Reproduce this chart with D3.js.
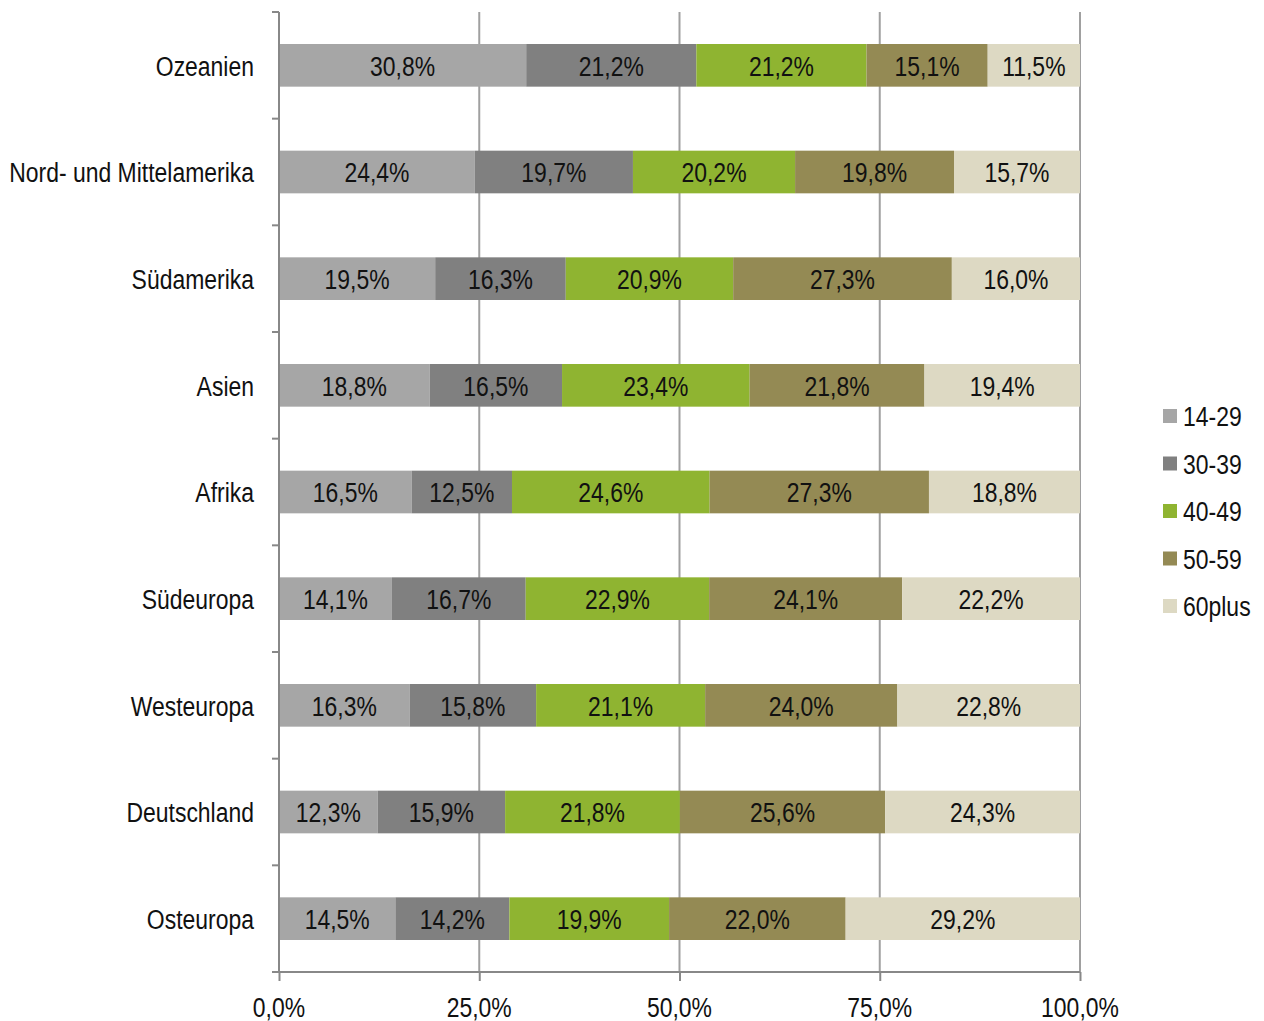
<!DOCTYPE html>
<html>
<head>
<meta charset="utf-8">
<script src="https://cdn.jsdelivr.net/npm/d3@7"></script>
<style>
    body { margin: 0; background: #fff; }
    svg { display: block; font-family: "Liberation Sans", Arial, sans-serif; }
</style>
</head>
<body>
<div id="chart"></div>
<script>
// data
const regions = ["Ozeanien", "Nord- und Mittelamerika", "Südamerika", "Asien", "Afrika",
    "Südeuropa", "Westeuropa", "Deutschland", "Osteuropa"]
const ageGroups = ["14-29", "30-39", "40-49", "50-59", "60plus"]
const age14to29 = [30.8, 24.4, 19.5, 18.8, 16.5, 14.1, 16.3, 12.3, 14.5]
const age30to39 = [21.2, 19.7, 16.3, 16.5, 12.5, 16.7, 15.8, 15.9, 14.2]
const age40to49 = [21.2, 20.2, 20.9, 23.4, 24.6, 22.9, 21.1, 21.8, 19.9]
const age50to59 = [15.1, 19.8, 27.3, 21.8, 27.3, 24.1, 24.0, 25.6, 22.0]
const age60plus = [11.5, 15.7, 16.0, 19.4, 18.8, 22.2, 22.8, 24.3, 29.2]
const xTicks = [0, 25, 50, 75, 100]
const colors = ["#a6a6a6", "#808080", "#8fb431", "#948a54", "#ddd9c3"]

// no narrow font installed, so squeeze the regular one horizontally
const narrow = 0.85
const fontSize = "27px"

function narrowText(selection, xFn, yFn) {
    selection
        .attr("transform", (d, i) => "translate(" + xFn(d, i) + "," + yFn(d, i) + ") scale(" + narrow + ",1)")
        .attr("dy", "0.35em")
        .attr("fill", "#111")
        .style("font-size", fontSize)
}

function drawStackedChart() {
    const series = [age14to29, age30to39, age40to49, age50to59, age60plus]

    //dimensions
    let dimensions = {
        width: 1264,
        height: 1021,
        margin: {top: 12, right: 184, bottom: 49, left: 279},
    }

    // build rows for the stack, each row normalised to 100%
    const rows = regions.map((region, i) => {
        let row = {region: region}
        let total = d3.sum(series, s => s[i])
        ageGroups.forEach((group, j) => {
            row[group] = series[j][i] / total * 100
            row[group + "_label"] = series[j][i]
        })
        return row
    })
    const stacked = d3.stack().keys(ageGroups)(rows)

    //canvas
    const svg = d3.select("#chart")
        .append("svg")
        .attr("width", dimensions.width)
        .attr("height", dimensions.height)

    //scales
    const xScale = d3.scaleLinear()
        .domain([0, 100])
        .range([dimensions.margin.left, dimensions.width - dimensions.margin.right])
    const yScale = d3.scaleBand()
        .domain(regions)
        .range([dimensions.margin.top, dimensions.height - dimensions.margin.bottom])
    const colorScale = d3.scaleOrdinal().domain(ageGroups).range(colors)
    const barHeight = yScale.bandwidth() * 0.4
    const bottomY = dimensions.height - dimensions.margin.bottom

    // gridlines
    svg.append("g")
        .selectAll("line")
        .data(xTicks.slice(1))
        .join("line")
        .attr("x1", d => xScale(d))
        .attr("x2", d => xScale(d))
        .attr("y1", dimensions.margin.top)
        .attr("y2", bottomY)
        .attr("stroke", "#a0a0a0")
        .attr("stroke-width", 2)

    // bars
    const groups = svg.append("g")
        .selectAll("g")
        .data(stacked)
        .join("g")
        .attr("fill", d => colorScale(d.key))
    groups.selectAll("rect")
        .data(d => d.map(v => Object.assign(v, {key: d.key})))
        .join("rect")
        .attr("x", d => xScale(d[0]))
        .attr("width", d => xScale(d[1]) - xScale(d[0]))
        .attr("y", d => yScale(d.data.region) + (yScale.bandwidth() - barHeight) / 2)
        .attr("height", barHeight)

    // bar labels
    const fmt = v => d3.format(".1f")(v).replace(".", ",") + "%"
    groups.selectAll("text")
        .data(d => d)
        .join("text")
        .attr("text-anchor", "middle")
        .call(narrowText,
            d => (xScale(d[0]) + xScale(d[1])) / 2,
            d => yScale(d.data.region) + yScale.bandwidth() / 2 + 1)
        .text(d => fmt(d.data[d.key + "_label"]))

    // y axis
    const yAxis = svg.append("g")
        .attr("transform", "translate(" + dimensions.margin.left + ",0)")
    yAxis.append("line")
        .attr("x1", 0).attr("x2", 0)
        .attr("y1", dimensions.margin.top).attr("y2", bottomY)
        .attr("stroke", "#888").attr("stroke-width", 2)
    yAxis.selectAll(".tick")
        .data(regions.map(r => yScale(r)).concat([bottomY]))
        .join("line")
        .attr("x1", -7).attr("x2", 0)
        .attr("y1", d => d).attr("y2", d => d)
        .attr("stroke", "#888").attr("stroke-width", 2)
    yAxis.selectAll("text")
        .data(regions)
        .join("text")
        .attr("text-anchor", "end")
        .call(narrowText, () => -25, d => yScale(d) + yScale.bandwidth() / 2 + 1)
        .text(d => d)

    // x axis
    const xAxis = svg.append("g")
        .attr("transform", "translate(0," + bottomY + ")")
        .call(d3.axisBottom(xScale).tickValues(xTicks).tickSize(9).tickFormat(""))
    xAxis.select(".domain")
        .attr("stroke", "#888").attr("stroke-width", 2)
        .attr("d", "M" + (dimensions.margin.left - 7) + ",0H" + xScale(100))
    xAxis.selectAll(".tick line").attr("stroke", "#888").attr("stroke-width", 2)
    xAxis.selectAll(".tickLabel")
        .data(xTicks)
        .join("text")
        .attr("text-anchor", "middle")
        .call(narrowText, d => xScale(d), () => 36)
        .text(d => fmt(d))

    // legend
    const legend = svg.append("g")
        .selectAll("g")
        .data(ageGroups)
        .join("g")
        .attr("transform", (d, i) => "translate(1163," + (416 + i * 47.5) + ")")
    legend.append("rect")
        .attr("x", 0).attr("y", -7)
        .attr("width", 14).attr("height", 14)
        .attr("fill", d => colorScale(d))
    legend.append("text")
        .call(narrowText, () => 20, () => 1)
        .text(d => d)
}

drawStackedChart()
</script>
</body>
</html>
